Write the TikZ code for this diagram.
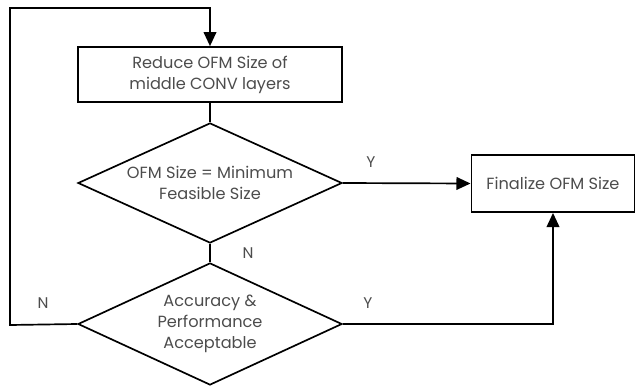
\documentclass[tikz,border=0pt]{standalone}
\usepackage{fontspec}
\setmainfont{Poppins}
\usetikzlibrary{shapes.geometric,arrows.meta}
\tikzset{
  stepbox/.style={rectangle, draw, line width=1.2pt, align=center, inner sep=2pt},
  decide/.style={diamond, draw, line width=1.2pt, align=center, inner sep=0pt, aspect=2.2},
  flow/.style={line width=1.2pt, -{Triangle[length=10pt, width=9pt]}},
  link/.style={line width=1.2pt},
  lbl/.style={font=\fontsize{11}{13}\selectfont, text=black!70}
}
\begin{document}
\begin{tikzpicture}[x=0.025cm, y=-0.025cm, font=\fontsize{11.5}{15}\selectfont]
  \useasboundingbox (0,0) rectangle (636,387);
  % Nodes
  \node (red) [stepbox, minimum width=6.6cm, minimum height=1.375cm, text=black!70] at (210, 74.5) {Reduce OFM Size of\\middle CONV layers};
  \node (d-1) [decide, minimum width=6.6cm, minimum height=3cm, text=black!70] at (210, 183) {OFM Size = Minimum\\Feasible Size};
  \node (d-2) [decide, minimum width=6.6cm, minimum height=3.05cm, text=black!70] at (210, 324) {Accuracy \&\\Performance\\Acceptable};
  \node (fin) [stepbox, minimum width=4.08cm, minimum height=1.43cm, text=black!70] at (553, 183.5) {Finalize OFM Size};
  \coordinate (lp-1) at (10, 325);
  \coordinate (lp-2) at (10, 8);
  % Arrows
  \draw[link] (red.south) -- (d-1.north);
  \draw[link] (d-1.south) -- (d-2.north);
  \draw[flow] (d-1.east) -- (fin.west);
  \draw[flow] (d-2.east) -| (fin.south);
  \draw[flow] (d-2.west) -- (lp-1) -- (lp-2) -| (red.north);
  % Labels
  \node (y-1) [lbl] at (371, 162) {Y};
  \node (n-1) [lbl] at (248, 253) {N};
  \node (y-2) [lbl] at (368, 303) {Y};
  \node (n-2) [lbl] at (43, 303) {N};
\end{tikzpicture}
\end{document}
